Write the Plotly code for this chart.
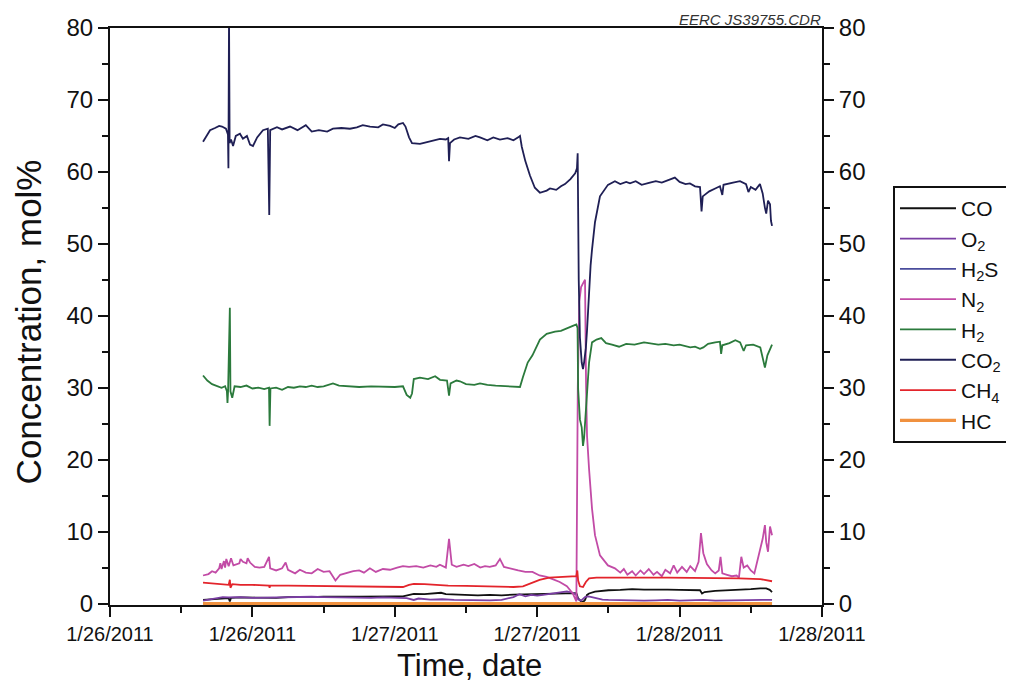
import plotly.graph_objects as go

# ---- axis labels ----
tick_hours = [0, 12, 24, 36, 48, 60]
tick_labels = ["1/26/2011", "1/26/2011", "1/27/2011", "1/27/2011", "1/28/2011", "1/28/2011"]

# ---- series (time in hours from 1/26/2011 00:00, concentration mol%) ----
co2_t = [7.84, 8.1, 8.43, 8.85, 9.2, 9.44, 9.77, 9.94, 9.98, 10.03, 10.08, 10.2, 10.37, 10.6, 10.95, 11.2, 11.54, 11.8,
         12.05, 12.4, 12.89, 13.3, 13.42, 13.5, 14.07, 14.5, 15.17, 15.8, 16.5, 17.0, 17.6, 18.3, 18.79, 19.5, 20.22,
         20.8, 21.3, 21.91, 22.6, 23.0, 23.6, 24.0, 24.3, 24.69, 24.9, 25.2, 25.45, 26.12, 26.8, 27.3, 27.81, 28.3,
         28.5, 28.57, 28.65, 29.0, 29.49, 30.2, 30.8, 31.18, 31.8, 32.3, 32.86, 33.5, 34.0, 34.4, 34.55, 34.7, 35.0,
         35.39, 35.8, 36.23, 36.8, 37.08, 37.6, 38.0, 38.34, 38.8, 39.2, 39.35, 39.41, 39.5, 39.6, 39.75, 39.86, 39.95,
         40.1, 40.2, 40.37, 40.5, 40.62, 40.87, 41.29, 41.96, 42.55, 43.0, 43.5, 43.82, 44.3, 44.8, 45.5, 46.0, 46.5,
         47.19, 47.6, 48.0, 48.5, 48.87, 49.3, 49.72, 49.85, 49.95, 50.5, 51.0, 51.4, 51.6, 51.7, 52.5, 53.09, 53.6,
         53.8, 54.0, 54.4, 54.77, 55.0, 55.19, 55.3, 55.45, 55.62, 55.7, 55.79]
co2_v = [64.2, 65.0, 65.8, 66.1, 66.4, 66.3, 66.0, 65.2, 60.5, 82.0, 64.0, 64.5, 63.6, 65.0, 65.3, 64.6, 65.0, 63.8,
         63.6, 64.8, 65.8, 66.0, 54.0, 65.8, 66.2, 65.9, 66.3, 65.8, 66.5, 65.6, 65.8, 65.6, 66.0, 66.1, 66.0,
         66.2, 66.5, 66.3, 66.2, 66.6, 66.4, 66.1, 66.6, 66.8, 66.3, 64.8, 64.0, 63.9, 64.2, 64.4, 64.6, 64.5,
         64.7, 61.5, 64.0, 64.5, 64.8, 64.6, 65.0, 64.8, 64.4, 64.8, 64.5, 64.7, 64.4, 64.8, 65.0, 63.5, 61.5,
         59.5, 57.8, 57.1, 57.4, 57.7, 57.5, 58.0, 58.3, 59.0, 59.8, 60.5, 62.6, 45.0, 37.0, 33.5, 32.6, 33.5,
         35.5, 38.0, 43.7, 47.0, 49.2, 53.0, 56.6, 58.2, 58.7, 58.3, 58.6, 58.4, 58.7, 58.2, 58.5, 58.7, 58.5,
         58.9, 59.2, 58.6, 58.3, 58.4, 58.0, 57.9, 54.5, 56.6, 57.3, 57.7, 58.0, 56.8, 58.2, 58.5, 58.7, 58.3,
         57.2, 57.9, 57.5, 58.3, 57.0, 55.0, 54.2, 56.0, 55.5, 53.2, 52.5]

h2_t = [7.84, 8.2, 8.6, 9.0, 9.4, 9.7, 9.85, 9.9, 9.95, 10.1, 10.15, 10.3, 10.5, 11.0, 11.5, 12.0, 12.5, 13.0, 13.4,
        13.45, 13.52, 14.0, 14.5, 15.0, 15.5, 16.0, 16.5, 17.0, 17.5, 18.0, 18.79, 19.3, 20.0, 21.0, 22.0, 23.0, 24.0,
        24.69, 25.0, 25.3, 25.45, 25.6, 26.12, 26.8, 27.4, 27.81, 28.4, 28.57, 28.7, 29.2, 29.49, 30.0, 30.7, 31.18,
        31.8, 32.5, 33.3, 34.0, 34.55, 34.8, 35.2, 35.6, 36.0, 36.23, 36.8, 37.5, 38.0, 38.5, 39.0, 39.3, 39.4, 39.45,
        39.6, 39.75, 39.86, 39.95, 40.1, 40.2, 40.37, 40.62, 41.0, 41.4, 41.8, 42.3, 42.9, 43.5, 44.2, 45.0, 45.5,
        46.2, 46.8, 47.5, 48.0, 48.5, 48.9, 49.3, 49.72, 50.0, 50.4, 51.0, 51.4, 51.5, 51.6, 52.2, 52.7, 53.1, 53.4,
        53.6, 54.2, 54.8, 55.0, 55.19, 55.4, 55.62, 55.79]
h2_v = [31.7, 31.0, 30.5, 30.3, 30.0, 30.2, 29.5, 27.9, 29.5, 41.1, 29.5, 28.6, 30.2, 30.1, 30.3, 29.9, 30.0, 29.8, 30.0,
        24.7, 29.9, 30.0, 29.7, 30.1, 30.0, 30.2, 30.1, 30.3, 30.1, 30.2, 30.6, 30.3, 30.2, 30.1, 30.2, 30.1, 30.1,
        30.2, 29.0, 28.6, 29.2, 31.2, 31.4, 31.2, 31.6, 31.1, 31.0, 28.9, 30.6, 31.0, 30.9, 30.5, 30.4, 30.6,
        30.4, 30.3, 30.2, 30.1, 30.1, 31.5, 33.5, 34.5, 36.0, 36.7, 37.5, 37.8, 37.9, 38.3, 38.6, 38.8, 38.3, 29.8,
        25.6, 24.5, 21.9, 23.0, 26.6, 30.0, 33.5, 36.3, 36.7, 36.9, 36.2, 36.0, 35.7, 36.1, 36.0, 36.3, 36.2,
        36.0, 36.1, 35.9, 36.0, 35.8, 35.6, 35.7, 35.4, 35.6, 36.1, 36.3, 36.4, 34.7, 35.9, 36.2, 36.6, 36.3, 35.1,
        35.9, 36.0, 35.6, 34.0, 32.8, 34.5, 35.5, 36.0]

n2_t = [7.84, 8.3, 8.6, 8.9, 9.2, 9.3, 9.4, 9.6, 9.7, 9.8, 10.0, 10.2, 10.4, 10.7, 10.9, 11.0, 11.2, 11.5, 11.6, 11.8,
        12.2, 12.6, 13.0, 13.4, 13.5, 14.0, 14.5, 14.8, 15.0, 15.6, 16.0, 16.5, 17.0, 17.5, 18.0, 18.5, 18.79, 19.0,
        19.4, 20.0, 20.5, 21.0, 21.4, 21.9, 22.4, 23.0, 23.6, 24.2, 24.69, 25.2, 25.8, 26.4, 27.0, 27.5, 27.8, 28.3,
        28.57, 28.8, 29.2, 29.8, 30.2, 30.7, 31.2, 31.6, 32.0, 32.5, 32.86, 33.2, 33.8, 34.4, 35.0, 35.6, 36.2, 36.8,
        37.3, 37.9, 38.5, 39.0, 39.3, 39.42, 39.55, 39.7, 39.86, 40.03, 40.12, 40.2, 40.37, 40.62, 40.87, 41.29,
        41.96, 42.55, 43.0, 43.3, 43.6, 44.0, 44.3, 44.7, 45.0, 45.4, 45.8, 46.1, 46.5, 46.8, 47.2, 47.5, 47.8, 48.2,
        48.6, 48.9, 49.3, 49.6, 49.8, 50.0, 50.3, 50.7, 51.0, 51.3, 51.45, 51.6, 52.0, 52.4, 52.8, 53.0, 53.2, 53.4,
        53.7, 54.0, 54.3, 54.5, 54.8, 55.0, 55.19, 55.3, 55.45, 55.62, 55.79]
n2_v = [3.9, 4.1, 4.5, 4.3, 4.9, 5.6, 4.8, 5.9, 5.0, 6.2, 5.2, 6.3, 5.3, 5.5, 5.6, 6.2, 5.8, 5.6, 6.3, 5.7,
        5.1, 5.0, 5.1, 6.5, 4.9, 4.6, 4.9, 5.7, 4.7, 4.2, 4.7, 4.3, 4.2, 4.8, 4.4, 4.5, 3.7, 3.2,
        4.0, 4.3, 4.5, 4.6, 4.3, 4.9, 4.4, 4.8, 4.7, 5.0, 5.2, 5.1, 5.2, 5.0, 5.3, 5.1, 5.4, 5.0,
        9.0, 5.4, 5.1, 5.4, 5.2, 5.5, 5.0, 5.2, 5.1, 5.3, 6.2, 5.1, 4.8, 4.6, 4.4, 4.4, 3.9, 3.7,
        3.4, 3.0, 2.4, 1.4, 0.3, 30.0, 42.0, 44.0, 44.5, 45.0, 30.0, 23.3, 18.7, 13.2, 9.5, 6.7,
        5.3, 4.9, 4.3, 4.8, 4.0, 4.5, 3.9, 4.6, 4.1, 4.8, 4.0, 4.4, 3.8, 4.7, 4.2, 5.3, 4.3, 5.1,
        4.4, 5.2, 4.5, 5.8, 9.8, 7.0, 5.5, 4.6, 4.2, 4.6, 6.5, 4.2, 4.0, 3.8, 3.9, 3.6, 6.5, 5.0,
        5.3, 4.6, 4.2, 5.5, 7.5, 9.0, 10.9, 8.5, 7.2, 10.7, 9.5]

ch4_t = [7.84, 9.0, 10.0, 10.1, 10.15, 10.3, 11.0, 12.0, 13.4, 13.45, 13.5, 15.0, 17.0, 19.0, 21.0, 23.0, 24.69, 25.2,
         25.6, 26.5, 27.5, 28.5, 30.0, 32.0, 34.0, 34.8, 35.5, 36.2, 37.0, 38.0, 39.0, 39.3, 39.38, 39.45, 39.6, 39.86,
         40.1, 40.37, 41.0, 43.0, 45.0, 47.0, 49.0, 51.0, 53.0, 54.8, 55.3, 55.79]
ch4_v = [2.9, 2.75, 2.6, 3.3, 2.2, 2.7, 2.6, 2.6, 2.5, 2.2, 2.5, 2.5, 2.45, 2.4, 2.35, 2.3, 2.3, 2.6,
         2.75, 2.7, 2.55, 2.5, 2.45, 2.4, 2.3, 2.4, 2.9, 3.3, 3.6, 3.7, 3.7, 3.8, 4.6, 3.2, 2.4, 2.3,
         3.0, 3.5, 3.6, 3.65, 3.6, 3.6, 3.6, 3.55, 3.5, 3.4, 3.2, 3.1]

co_t = [7.84, 8.5, 9.5, 10.0, 10.1, 10.2, 11.0, 12.0, 13.0, 14.0, 15.0, 16.0, 17.0, 18.0, 19.0, 20.0, 21.0, 22.0, 23.0,
        24.0, 24.69, 25.2, 25.6, 26.5, 27.5, 27.9, 28.3, 29.0, 30.0, 31.0, 32.0, 33.0, 34.0, 35.0, 36.0, 37.0, 38.0,
        39.0, 39.3, 39.45, 39.7, 39.86, 40.03, 40.2, 40.37, 40.87, 41.5, 42.0, 43.0, 44.0, 45.0, 46.0, 47.0, 48.0,
        49.0, 49.72, 49.89, 50.1, 51.0, 52.0, 53.0, 54.0, 54.8, 55.3, 55.6, 55.79]
co_v = [0.5, 0.6, 0.7, 0.75, 0.3, 0.8, 0.85, 0.8, 0.85, 0.8, 0.9, 0.85, 0.9, 0.95, 0.9, 0.95, 0.95, 1.0, 1.0,
        1.0, 1.0, 1.25, 1.35, 1.3, 1.45, 1.5, 1.3, 1.25, 1.2, 1.15, 1.2, 1.15, 1.25, 1.3, 1.35, 1.4, 1.45,
        1.5, 1.45, 0.7, 0.3, 0.2, 0.5, 1.2, 1.4, 1.65, 1.75, 1.85, 1.9, 2.0, 1.95, 2.0, 1.95, 1.9,
        1.9, 1.85, 1.4, 1.6, 1.75, 1.8, 1.85, 2.0, 2.1, 2.1, 1.9, 1.6]

o2_t = [7.84, 8.5, 9.0, 9.5, 10.0, 11.0, 12.0, 13.0, 14.0, 15.0, 16.0, 17.0, 18.0, 19.0, 20.0, 21.0, 22.0, 23.0, 24.0,
        25.0, 25.6, 26.0, 27.0, 28.0, 29.0, 30.0, 31.0, 32.0, 33.0, 34.0, 34.5, 35.0, 35.5, 36.0, 36.5, 37.0, 37.5,
        38.0, 38.5, 39.0, 39.3, 39.45, 39.7, 40.03, 40.3, 40.6, 41.0, 41.5, 42.0, 43.0, 44.0, 45.0, 46.0, 47.0, 48.0,
        49.0, 50.0, 51.0, 52.0, 53.0, 54.0, 55.0, 55.79]
o2_v = [0.4, 0.6, 0.8, 0.9, 0.85, 0.9, 0.8, 0.85, 0.9, 0.85, 0.9, 0.95, 0.9, 0.85, 0.9, 0.85, 0.8, 0.85, 0.8,
        0.75, 0.5, 0.7, 0.55, 0.6, 0.5, 0.45, 0.5, 0.45, 0.5, 0.9, 1.3, 1.0, 1.2, 1.1, 1.2, 1.3, 1.4,
        1.6, 1.7, 1.5, 1.2, 0.6, 0.4, 0.9, 1.0, 0.9, 0.7, 0.55, 0.5, 0.45, 0.5, 0.4, 0.45, 0.5, 0.4,
        0.45, 0.5, 0.4, 0.45, 0.4, 0.45, 0.5, 0.5]

h2s_t = [7.84, 20.0, 39.0, 55.79]
h2s_v = [0.1, 0.1, 0.1, 0.1]

hc_t = [7.84, 20.0, 39.0, 55.79]
hc_v = [0.0, 0.0, 0.0, 0.0]

series = [
    ("CO", co_t, co_v, "#111111", 1.8),
    ("O<sub>2</sub>", o2_t, o2_v, "#7a3ea3", 1.8),
    ("H<sub>2</sub>S", h2s_t, h2s_v, "#4a4c9c", 1.8),
    ("N<sub>2</sub>", n2_t, n2_v, "#c24ba6", 1.8),
    ("H<sub>2</sub>", h2_t, h2_v, "#2b7a3c", 1.8),
    ("CO<sub>2</sub>", co2_t, co2_v, "#1f1f55", 1.8),
    ("CH<sub>4</sub>", ch4_t, ch4_v, "#e3242b", 1.8),
    ("HC", hc_t, hc_v, "#f0913f", 3.2),
]

FONT = "Arial, Liberation Sans, sans-serif"
fig = go.Figure()
for name, t, v, color, w in series:
    fig.add_trace(go.Scatter(x=t, y=v, name=name, mode="lines",
                             line=dict(color=color, width=w), hoverinfo="skip"))

# invisible trace to carry the right axis
fig.add_trace(go.Scatter(x=[0], y=[0], yaxis="y2", mode="lines", showlegend=False,
                         line=dict(width=0), hoverinfo="skip"))

yrange = [-0.2, 80]
ytick = [0, 10, 20, 30, 40, 50, 60, 70, 80]
yminor = [5, 15, 25, 35, 45, 55, 65, 75]
fig.update_layout(
    width=1006, height=674,
    margin=dict(l=102, r=192, t=20, b=77, autoexpand=False),
    paper_bgcolor="white", plot_bgcolor="white",
    font=dict(family=FONT, size=20, color="#111111"),
    showlegend=True,
    legend=dict(x=1.0997, y=0.726, xanchor="left", yanchor="top",
                bordercolor="#111111", borderwidth=2, bgcolor="white",
                font=dict(size=21, family=FONT), tracegroupgap=0, itemwidth=56),
    xaxis=dict(range=[0, 60], tickmode="array", tickvals=tick_hours, ticktext=tick_labels,
               showline=True, linecolor="#111111", linewidth=2, mirror=True,
               ticks="outside", ticklen=10, tickwidth=2, tickcolor="#111111",
               minor=dict(ticks="outside", dtick=6, tick0=0, ticklen=6, tickwidth=2, tickcolor="#111111"),
               showgrid=False, zeroline=False, layer="below traces",
               tickfont=dict(size=20)),
    yaxis=dict(range=yrange, tickmode="array", tickvals=ytick,
               showline=True, linecolor="#111111", linewidth=2,
               ticks="outside", ticklen=10, tickwidth=2, tickcolor="#111111",
               minor=dict(ticks="outside", tickvals=yminor, ticklen=6, tickwidth=2, tickcolor="#111111"),
               showgrid=False, zeroline=False, tickfont=dict(size=24)),
    yaxis2=dict(range=yrange, overlaying="y", side="right", anchor="x", tickmode="array",
                tickvals=ytick,
                showline=True, linecolor="#111111", linewidth=2,
                ticks="outside", ticklen=10, tickwidth=2, tickcolor="#111111",
                minor=dict(ticks="outside", tickvals=yminor, ticklen=6, tickwidth=2, tickcolor="#111111"),
                showgrid=False, zeroline=False, tickfont=dict(size=24)),
    annotations=[
        dict(text="Concentration, mol%", xref="paper", yref="paper", x=-0.115, y=0.49,
             textangle=-90, showarrow=False, font=dict(size=35, family=FONT), xanchor="center", yanchor="middle"),
        dict(text="Time, date", xref="paper", yref="paper", x=0.505, y=-0.104,
             showarrow=False, font=dict(size=31, family=FONT), xanchor="center", yanchor="middle"),
        dict(text="<i>EERC JS39755.CDR</i>", xref="paper", yref="paper", x=1.0, y=1.0,
             showarrow=False, font=dict(size=15, family=FONT, color="#333333"), borderpad=0,
             xanchor="right", yanchor="bottom", yshift=-1),
    ],
)

fig.write_html("out.html")
